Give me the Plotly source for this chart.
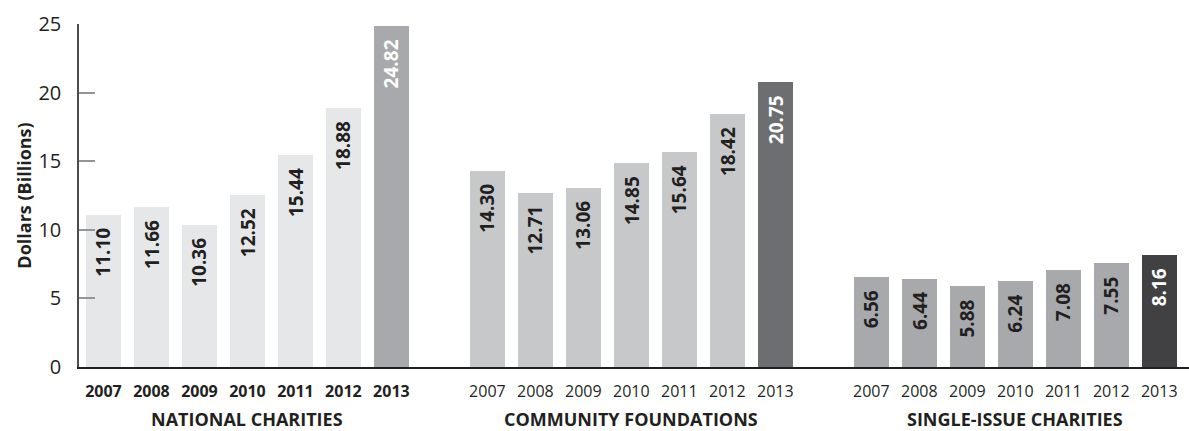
import plotly.graph_objects as go

years = ["2007", "2008", "2009", "2010", "2011", "2012", "2013"]
groups = ["NATIONAL CHARITIES", "COMMUNITY FOUNDATIONS", "SINGLE-ISSUE CHARITIES"]
national = [11.10, 11.66, 10.36, 12.52, 15.44, 18.88, 24.82]
community = [14.30, 12.71, 13.06, 14.85, 15.64, 18.42, 20.75]
single_issue = [6.56, 6.44, 5.88, 6.24, 7.08, 7.55, 8.16]
y_ticks = [0, 5, 10, 15, 20, 25]

series = [national, community, single_issue]
base_colors = ["#e6e7e8", "#c7c8ca", "#a7a9ac"]
last_colors = ["#a7a9ac", "#6d6e71", "#414042"]
label_colors = [["#231f20"] * 6 + ["#ffffff"]] * 3

fig = go.Figure()
tickvals, ticktext = [], []
for g, vals in enumerate(series):
    xs = [g * 8 + i for i in range(len(years))]
    colors = [base_colors[g]] * 6 + [last_colors[g]]
    fig.add_trace(go.Bar(x=xs, y=vals, width=0.73, marker=dict(color=colors, line_width=0),
                         showlegend=False, hoverinfo="skip"))
    for i, (x, v) in enumerate(zip(xs, vals)):
        fig.add_annotation(x=x, y=v, text=f"<b>{v:.2f}</b>", textangle=-90, showarrow=False,
                           xanchor="center", yanchor="top", yshift=-11,
                           font=dict(size=19, color=label_colors[g][i], family="Open Sans"))
        tickvals.append(x)
        ticktext.append(f"<b>{years[i]}</b>" if g == 0 else years[i])
    fig.add_annotation(x=g * 8 + 3, y=-0.152, yref="paper", text=f"<b>{groups[g]}</b>",
                       showarrow=False, xanchor="center", yanchor="middle",
                       font=dict(size=18, color="#231f20", family="Open Sans"))

fig.update_layout(
    width=1189, height=431,
    margin=dict(l=79, r=0, t=24, b=64),
    paper_bgcolor="white", plot_bgcolor="white",
    font=dict(family="Open Sans", color="#231f20"),
    bargap=0,
    xaxis=dict(range=[-0.51, 22.62], tickvals=tickvals, ticktext=ticktext,
               tickfont=dict(size=16, color="#231f20"), ticks="", showgrid=False,
               ticklabelstandoff=9,
               zeroline=False, showline=True, linecolor="#231f20", linewidth=1.5,
               fixedrange=True),
    yaxis=dict(range=[0, 25], tickvals=y_ticks, tickfont=dict(size=20, color="#231f20"),
               ticks="inside", ticklen=16, tickcolor="#939598", tickwidth=1.5,
               ticklabelstandoff=12,
               showgrid=False, zeroline=False, showline=True, linecolor="#4d4d4f",
               linewidth=1.5,
               title=dict(text="<b>Dollars (Billions)</b>", font=dict(size=18, color="#231f20"),
                          standoff=2),
               fixedrange=True),
)

fig.write_html("out.html")
